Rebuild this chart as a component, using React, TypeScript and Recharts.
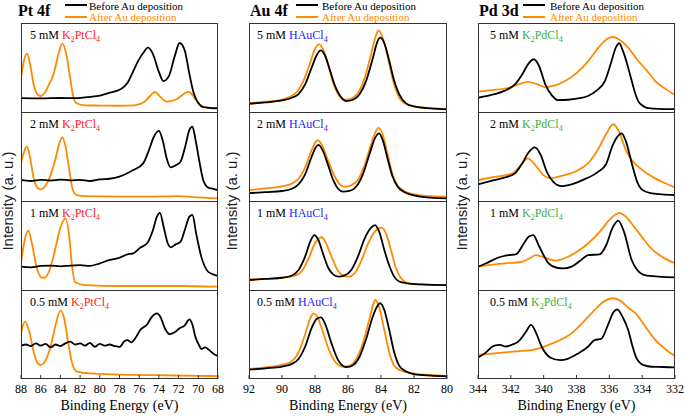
import React from "react";
import { LineChart, Line, XAxis, YAxis } from "recharts";

type Pt = [number, number];

// Pt 4f  [binding energy, intensity]
const pt5Before: Pt[] = [[88, 0.62], [86, 0.61], [84, 0.63], [82.5, 0.62], [81, 0.68], [80, 0.74], [79, 0.87], [77.9, 1.02], [77.2, 1.3], [76.6, 1.84], [76.1, 2.3], [75.6, 2.65], [75.1, 2.89], [74.6, 2.6], [74.0, 1.8], [73.55, 1.39], [73.0, 1.6], [72.4, 2.5], [71.9, 3.1], [71.4, 2.8], [70.9, 1.7], [70.5, 0.9], [70.0, 0.4], [69.5, 0.22], [68, 0.17]];
const pt5After: Pt[] = [[88, 1.53], [87.7, 2.3], [87.4, 2.62], [87.1, 2.2], [86.7, 1.2], [86.3, 0.78], [86.0, 0.72], [85.6, 0.85], [85.2, 1.2], [84.7, 1.7], [84.2, 2.6], [83.8, 3.07], [83.4, 2.6], [83.0, 1.5], [82.7, 0.7], [82.3, 0.38], [81.5, 0.3], [80, 0.29], [78, 0.28], [76.5, 0.3], [75.5, 0.45], [74.9, 0.72], [74.4, 0.9], [73.9, 0.7], [73.2, 0.47], [72.3, 0.55], [71.5, 0.8], [71.0, 0.91], [70.4, 0.65], [69.8, 0.3], [69.2, 0.2], [68, 0.15]];
const pt2Before: Pt[] = [[88, 0.95], [87, 0.9], [86, 0.95], [85, 0.92], [84, 0.96], [83, 0.93], [82, 0.95], [81, 0.9], [80, 0.97], [79, 1.0], [78, 1.1], [77.2, 1.25], [76.6, 1.39], [75.6, 1.69], [75.0, 2.3], [74.5, 2.9], [74.0, 3.15], [73.6, 2.7], [73.2, 1.9], [72.8, 1.51], [72.3, 1.6], [71.8, 1.77], [71.3, 2.5], [70.9, 3.2], [70.6, 3.34], [70.3, 2.8], [69.9, 1.8], [69.5, 0.94], [69.0, 0.6], [68.5, 0.55], [68, 0.49]];
const pt2After: Pt[] = [[88, 1.69], [87.7, 2.2], [87.4, 2.44], [87.1, 2.0], [86.7, 1.0], [86.3, 0.58], [86.0, 0.52], [85.5, 0.7], [85.0, 1.15], [84.5, 1.9], [84.1, 2.6], [83.8, 2.86], [83.5, 2.5], [83.1, 1.4], [82.8, 0.6], [82.4, 0.28], [81.5, 0.22], [78, 0.2], [75, 0.2], [72, 0.22], [70, 0.16], [68, 0.12]];
const pt1Before: Pt[] = [[88, 1.05], [87, 1.02], [86, 1.08], [85, 1.1], [84, 1.06], [83, 1.1], [82, 1.12], [81, 1.08], [80, 1.2], [79, 1.35], [78, 1.45], [77.2, 1.6], [76.6, 1.65], [75.9, 1.9], [75.2, 2.1], [74.6, 2.7], [74.2, 3.3], [73.9, 3.47], [73.5, 2.8], [73.1, 2.1], [72.8, 1.92], [72.3, 2.05], [71.8, 2.17], [71.3, 2.8], [70.9, 3.3], [70.6, 3.37], [70.2, 2.5], [69.7, 1.5], [69.0, 0.82], [68.5, 0.7], [68, 0.63]];
const pt1After: Pt[] = [[88, 1.2], [87.6, 2.3], [87.25, 2.67], [86.9, 2.1], [86.4, 1.0], [85.9, 0.56], [85.6, 0.55], [85.1, 0.9], [84.6, 1.7], [84.0, 2.8], [83.5, 3.22], [83.1, 2.4], [82.8, 1.0], [82.5, 0.35], [81.5, 0.22], [78, 0.18], [72, 0.18], [68, 0.15]];
const pt05Before: Pt[] = [[88, 1.5], [87.5, 1.55], [87, 1.48], [86.5, 1.6], [86, 1.5], [85.5, 1.58], [85, 1.42], [84.5, 1.55], [84, 1.48], [83.5, 1.6], [83, 1.68], [82.5, 1.55], [82, 1.6], [81.5, 1.5], [81, 1.62], [80.5, 1.45], [80, 1.58], [79.5, 1.5], [79, 1.55], [78.5, 1.48], [78, 1.44], [77.5, 1.7], [77.2, 1.75], [76.8, 1.65], [76.3, 1.9], [75.9, 2.2], [75.2, 2.45], [74.7, 2.8], [74.2, 2.95], [73.8, 2.75], [73.4, 2.28], [72.9, 2.02], [72.4, 2.1], [71.9, 2.28], [71.4, 2.4], [70.9, 2.68], [70.6, 2.45], [70.3, 1.9], [69.9, 1.5], [69.7, 1.35], [69.3, 1.42], [68.9, 1.3], [68.5, 1.15], [68, 1.03]];
const pt05After: Pt[] = [[88, 2.05], [87.6, 2.58], [87.2, 2.2], [86.7, 1.2], [86.3, 0.7], [86.0, 0.63], [85.5, 0.85], [85.0, 1.45], [84.5, 2.4], [84.0, 3.07], [83.6, 2.7], [83.2, 1.6], [82.8, 0.7], [82.3, 0.33], [81, 0.25], [78, 0.2], [74, 0.17], [70, 0.14], [68, 0.13]];

// Au 4f
const au5Before: Pt[] = [[92, 0.37], [91, 0.43], [90, 0.52], [89.4, 0.64], [89, 0.8], [88.6, 1.24], [88.2, 2.0], [87.9, 2.55], [87.65, 2.77], [87.4, 2.55], [87.1, 1.9], [86.8, 1.2], [86.5, 0.75], [86.1, 0.49], [85.7, 0.55], [85.3, 0.8], [84.9, 1.4], [84.5, 2.4], [84.2, 3.2], [84.05, 3.34], [83.8, 3.1], [83.5, 2.3], [83.2, 1.4], [82.9, 0.8], [82.5, 0.4], [82, 0.25], [81, 0.16], [80, 0.12]];
const au5After: Pt[] = [[92, 0.4], [91, 0.46], [90, 0.56], [89.5, 0.7], [89.1, 0.9], [88.7, 1.4], [88.3, 2.2], [88.0, 2.85], [87.75, 3.04], [87.5, 2.8], [87.2, 2.1], [86.9, 1.3], [86.6, 0.8], [86.2, 0.55], [85.8, 0.6], [85.4, 0.85], [85.0, 1.5], [84.6, 2.6], [84.3, 3.45], [84.15, 3.67], [83.9, 3.35], [83.6, 2.5], [83.3, 1.5], [83.0, 0.8], [82.6, 0.4], [82, 0.25], [81, 0.17], [80, 0.14]];
const au2Before: Pt[] = [[92, 0.35], [91, 0.4], [90, 0.45], [89.4, 0.55], [89, 0.75], [88.6, 1.2], [88.2, 2.0], [87.95, 2.42], [87.8, 2.52], [87.55, 2.3], [87.2, 1.6], [86.9, 0.95], [86.6, 0.55], [86.3, 0.42], [85.9, 0.45], [85.5, 0.65], [85.1, 1.2], [84.7, 2.1], [84.35, 2.85], [84.12, 3.04], [83.9, 2.75], [83.6, 1.9], [83.3, 1.1], [83.0, 0.65], [82.6, 0.4], [82, 0.25], [81, 0.15], [80, 0.12]];
const au2After: Pt[] = [[92, 0.49], [91, 0.57], [90, 0.66], [89.4, 0.78], [89, 1.0], [88.6, 1.5], [88.2, 2.3], [87.95, 2.67], [87.84, 2.74], [87.6, 2.55], [87.2, 1.8], [86.8, 1.1], [86.5, 0.75], [86.2, 0.64], [85.8, 0.7], [85.4, 0.95], [85.0, 1.6], [84.6, 2.55], [84.3, 3.15], [84.15, 3.29], [83.9, 3.0], [83.6, 2.1], [83.3, 1.2], [83.0, 0.7], [82.6, 0.45], [82, 0.3], [81, 0.22], [80, 0.2]];
const au1Before: Pt[] = [[92, 0.45], [91, 0.5], [90, 0.55], [89.4, 0.65], [89, 0.9], [88.6, 1.5], [88.3, 2.15], [88.04, 2.47], [87.8, 2.25], [87.5, 1.6], [87.2, 1.0], [86.9, 0.7], [86.6, 0.6], [86.2, 0.66], [85.8, 0.9], [85.4, 1.5], [85.0, 2.3], [84.6, 2.8], [84.36, 2.92], [84.1, 2.6], [83.8, 1.8], [83.5, 1.1], [83.2, 0.6], [82.9, 0.38], [82.4, 0.3], [81.5, 0.25], [80, 0.22]];
const au1After: Pt[] = [[92, 0.45], [91, 0.5], [90, 0.55], [89.2, 0.65], [88.8, 0.85], [88.4, 1.4], [88.0, 2.1], [87.75, 2.33], [87.6, 2.37], [87.4, 2.2], [87.0, 1.5], [86.6, 0.85], [86.3, 0.65], [85.98, 0.6], [85.6, 0.75], [85.2, 1.3], [84.8, 2.05], [84.4, 2.6], [84.1, 2.78], [83.96, 2.8], [83.7, 2.55], [83.4, 1.8], [83.1, 1.0], [82.8, 0.55], [82.45, 0.32], [82, 0.26], [81, 0.23], [80, 0.22]];
const au05Before: Pt[] = [[92, 0.42], [91, 0.48], [90, 0.56], [89.4, 0.68], [89, 0.9], [88.6, 1.45], [88.2, 2.3], [87.9, 2.7], [87.64, 2.77], [87.4, 2.5], [87.0, 1.6], [86.6, 0.85], [86.3, 0.58], [86.08, 0.53], [85.7, 0.62], [85.3, 1.0], [84.9, 1.8], [84.5, 2.8], [84.2, 3.3], [84.06, 3.41], [83.8, 3.1], [83.5, 2.2], [83.2, 1.2], [82.9, 0.6], [82.5, 0.35], [82, 0.22], [81, 0.15], [80, 0.12]];
const au05After: Pt[] = [[92, 0.44], [91, 0.52], [90, 0.63], [89.4, 0.8], [89, 1.2], [88.6, 2.0], [88.3, 2.7], [88.1, 2.95], [87.9, 2.85], [87.6, 2.3], [87.2, 1.4], [86.8, 0.8], [86.3, 0.55], [85.9, 0.6], [85.5, 0.9], [85.1, 1.6], [84.7, 2.7], [84.45, 3.4], [84.36, 3.55], [84.1, 3.2], [83.8, 2.2], [83.5, 1.2], [83.2, 0.6], [82.8, 0.38], [82.3, 0.28], [81, 0.18], [80, 0.13]];

// Pd 3d
const pd5Before: Pt[] = [[344, 0.64], [343, 0.8], [342.4, 0.95], [341.75, 1.24], [341.3, 1.7], [340.9, 2.2], [340.6, 2.37], [340.3, 2.1], [339.9, 1.24], [339.5, 0.75], [339.1, 0.53], [338.5, 0.55], [337.8, 0.62], [337.3, 0.72], [336.8, 0.95], [336.27, 1.39], [335.9, 2.2], [335.6, 2.9], [335.4, 3.09], [335.15, 2.7], [334.74, 1.69], [334.45, 0.9], [334.24, 0.49], [333.9, 0.25], [333.6, 0.17], [333, 0.14], [332, 0.13]];
const pd5After: Pt[] = [[344, 0.91], [343.2, 0.98], [342.15, 1.09], [341.5, 1.25], [340.94, 1.35], [340.4, 1.25], [339.9, 1.12], [339.3, 1.2], [338.7, 1.39], [338, 1.75], [337.28, 2.29], [336.6, 2.95], [336.1, 3.3], [335.76, 3.37], [335.3, 3.2], [334.85, 2.89], [334.3, 2.35], [333.7, 1.85], [333.2, 1.39], [332.6, 1.05], [332, 0.76]];
const pd2Before: Pt[] = [[344, 0.75], [343.2, 0.9], [342.4, 1.05], [341.75, 1.24], [341.3, 1.7], [340.9, 2.2], [340.53, 2.41], [340.2, 2.1], [339.8, 1.3], [339.4, 0.85], [338.9, 0.67], [338.3, 0.75], [337.6, 0.95], [336.67, 1.32], [336.2, 1.65], [335.8, 2.5], [335.5, 2.9], [335.25, 3.04], [335.0, 2.7], [334.6, 1.6], [334.3, 0.85], [334.03, 0.52], [333.5, 0.35], [332.8, 0.3], [332, 0.27]];
const pd2After: Pt[] = [[344, 0.94], [343, 1.08], [341.9, 1.24], [341.4, 1.6], [340.97, 1.92], [340.5, 1.6], [340.0, 1.15], [339.6, 1.02], [338.8, 1.15], [338, 1.35], [337.3, 1.69], [336.7, 2.3], [336.2, 3.0], [335.76, 3.45], [335.4, 3.1], [335.0, 2.3], [334.64, 1.84], [334, 1.4], [333.3, 1.05], [332.6, 0.8], [332, 0.61]];
const pd1Before: Pt[] = [[344, 1.05], [343.5, 1.2], [342.8, 1.45], [342.15, 1.57], [341.7, 1.6], [341.2, 2.1], [340.9, 2.4], [340.63, 2.47], [340.3, 2.0], [339.7, 1.2], [339.2, 1.0], [338.8, 0.97], [338.3, 1.05], [337.8, 1.3], [337.28, 1.57], [336.6, 1.6], [336.2, 2.0], [335.8, 2.8], [335.46, 3.12], [335.1, 2.6], [334.64, 1.35], [334.3, 0.9], [333.83, 0.67], [333, 0.6], [332, 0.57]];
const pd1After: Pt[] = [[344, 1.05], [343, 1.15], [342, 1.22], [341.3, 1.27], [340.8, 1.45], [340.5, 1.57], [340.1, 1.5], [339.3, 1.32], [338.5, 1.5], [337.9, 1.75], [337.28, 2.1], [336.6, 2.6], [336.0, 3.15], [335.6, 3.4], [335.4, 3.47], [335.0, 3.3], [334.5, 2.85], [334.03, 2.4], [333.5, 1.9], [332.8, 1.5], [332, 1.2]];
const pd05Before: Pt[] = [[344, 0.97], [343.6, 1.15], [343.0, 1.5], [342.66, 1.53], [342.3, 1.46], [341.9, 1.55], [341.55, 1.68], [341.1, 2.1], [340.77, 2.43], [340.45, 2.05], [340.12, 1.45], [339.6, 0.97], [339.0, 0.85], [338.5, 0.92], [337.9, 1.15], [337.3, 1.45], [336.9, 1.75], [336.5, 1.8], [336.1, 2.4], [335.75, 3.0], [335.52, 3.13], [335.2, 2.8], [334.85, 2.2], [334.6, 1.5], [334.34, 0.93], [333.9, 0.62], [333.42, 0.55], [332.7, 0.54], [332, 0.52]];
const pd05After: Pt[] = [[344, 1.08], [343, 1.15], [342, 1.22], [341.3, 1.26], [340.73, 1.3], [340.2, 1.4], [339.7, 1.53], [339, 1.75], [338.3, 2.05], [337.6, 2.55], [336.9, 3.1], [336.3, 3.5], [335.76, 3.63], [335.3, 3.5], [334.85, 3.2], [334.4, 2.95], [333.8, 2.35], [333.2, 1.75], [332.6, 1.35], [332, 1.03]];

const concLabels = ["5 mM", "2 mM", "1 mM", "0.5 mM"];
const ptTicks = [88, 86, 84, 82, 80, 78, 76, 74, 72, 70, 68];
const auTicks = [92, 90, 88, 86, 84, 82, 80];
const pdTicks = [344, 342, 340, 338, 336, 334, 332];
const yTicksStd = [1, 2, 3];
const yTicksPd = [[0.8, 1.8, 2.8, 3.8], [0.4, 1.4, 2.4, 3.4], [0.4, 1.4, 2.4, 3.4], [0.4, 1.4, 2.4, 3.4]];

const BLACK = "#000";
const ORANGE = "#ff8a00";
const FRAME = "#333";
const SERIF = "'Liberation Serif', 'Times New Roman', serif";
const SANS = "'Liberation Sans', Arial, sans-serif";

const ROW_TOP = [23, 112, 201, 290];
const ROW_H = 89;
const PAD = 20;

const columns = [
  {
    title: "Pt 4f", x: 21, w: 197, domain: [68, 88], ticks: ptTicks, yTicks: [yTicksStd, yTicksStd, yTicksStd, yTicksStd],
    compound: ["K", "2", "PtCl", "4"], color: "#ff1a1a", labelDx: 9,
    series: [[pt5Before, pt5After], [pt2Before, pt2After], [pt1Before, pt1After], [pt05Before, pt05After]],
    titleX: 18, lineX: 65, textX: 89, yLabelX: 8,
  },
  {
    title: "Au 4f", x: 249, w: 198, domain: [80, 92], ticks: auTicks, yTicks: [yTicksStd, yTicksStd, yTicksStd, yTicksStd],
    compound: ["HAuCl", "4"], color: "#2424ff", labelDx: 8,
    series: [[au5Before, au5After], [au2Before, au2After], [au1Before, au1After], [au05Before, au05After]],
    titleX: 250, lineX: 296, textX: 322, yLabelX: 232,
  },
  {
    title: "Pd 3d", x: 478, w: 197, domain: [332, 344], ticks: pdTicks, yTicks: yTicksPd,
    compound: ["K", "2", "PdCl", "4"], color: "#3cae3c", labelDx: 12,
    series: [[pd5Before, pd5After], [pd2Before, pd2After], [pd1Before, pd1After], [pd05Before, pd05After]],
    titleX: 479, lineX: 523, textX: 550, yLabelX: 462,
  },
];

const toRows = (pts: Pt[]) => pts.map(([e, v]) => ({ e, v }));

const subStyle: React.CSSProperties = { fontSize: 8, position: "relative", top: 3 };

function Compound({ parts, color }: { parts: string[]; color: string }) {
  return (
    <span style={{ color }}>
      {parts.map((p, i) => (i % 2 === 1 ? <span key={i} style={subStyle}>{p}</span> : <span key={i}>{p}</span>))}
    </span>
  );
}

function Panel({ col, row }: { col: (typeof columns)[number]; row: number }) {
  const bottom = row === 3;
  const [before, after] = col.series[row];
  return (
    <div style={{ position: "absolute", left: col.x - PAD, top: ROW_TOP[row] }}>
      <LineChart width={col.w + PAD * 2} height={ROW_H + (bottom ? 30 : 0)} margin={{ top: 0, right: PAD, bottom: 0, left: PAD }}>
        <XAxis
          dataKey="e" type="number" domain={col.domain} reversed ticks={col.ticks} interval={0} allowDataOverflow
          height={bottom ? 30 : 0} axisLine={false} tickSize={-4} tickMargin={9}
          tickLine={{ stroke: FRAME }}
          tick={bottom ? { fontSize: 12, fill: "#000", fontFamily: SERIF } : false}
        />
        <YAxis
          type="number" domain={[0, 4]} ticks={col.yTicks[row]} allowDataOverflow width={0}
          axisLine={false} tickSize={-4} tickLine={{ stroke: FRAME }} tick={false}
        />
        <Line data={toRows(after)} dataKey="v" type="monotone" stroke={ORANGE} strokeWidth={1.8} dot={false} isAnimationActive={false} />
        <Line data={toRows(before)} dataKey="v" type="monotone" stroke={BLACK} strokeWidth={1.8} dot={false} isAnimationActive={false} />
      </LineChart>
    </div>
  );
}

export default function App() {
  return (
    <div style={{ position: "absolute", left: 0, top: 0, width: 684, height: 416, background: "#fff", fontFamily: SERIF, overflow: "hidden" }}>
      {columns.map((col, ci) => (
        <React.Fragment key={ci}>
          {ROW_TOP.map((_, ri) => <Panel key={ri} col={col} row={ri} />)}
          <div style={{ position: "absolute", left: col.x, top: ROW_TOP[0], width: col.w, height: ROW_TOP[3] + ROW_H - ROW_TOP[0], border: `1px solid ${FRAME}`, boxSizing: "border-box" }} />
          {ROW_TOP.slice(1).map((t, i) => (
            <div key={i} style={{ position: "absolute", left: col.x, top: t, width: col.w, height: 1, background: FRAME }} />
          ))}
          {ROW_TOP.map((t, ri) => (
            <div key={"l" + ri} style={{ position: "absolute", left: col.x + col.labelDx, top: t + 6, fontSize: 12, lineHeight: "12px", whiteSpace: "nowrap", color: "#000" }}>
              {concLabels[ri]} <Compound parts={col.compound} color={col.color} />
            </div>
          ))}
          <div style={{ position: "absolute", left: col.titleX, top: 3, fontSize: 16, lineHeight: "16px", fontWeight: "bold" }}>{col.title}</div>
          <div style={{ position: "absolute", left: col.lineX, top: 4, width: 22, height: 2, background: BLACK }} />
          <div style={{ position: "absolute", left: col.lineX, top: 16, width: 22, height: 2, background: ORANGE }} />
          <div style={{ position: "absolute", left: col.textX, top: 0, fontSize: 11, lineHeight: "12px", whiteSpace: "nowrap" }}>Before Au deposition</div>
          <div style={{ position: "absolute", left: col.textX, top: 11, fontSize: 11, lineHeight: "12px", whiteSpace: "nowrap", color: ORANGE }}>After Au deposition</div>
          <div style={{ position: "absolute", left: col.x, top: 399, width: col.w, textAlign: "center", fontSize: 14, lineHeight: "14px" }}>Binding Energy (eV)</div>
          <div style={{ position: "absolute", left: col.yLabelX - 60, top: 201 - 8, width: 120, height: 16, textAlign: "center", fontSize: 15, lineHeight: "16px", fontFamily: SANS, color: "#222", transform: "rotate(-90deg)", whiteSpace: "nowrap" }}>Intensity (a. u.)</div>
        </React.Fragment>
      ))}
    </div>
  );
}
